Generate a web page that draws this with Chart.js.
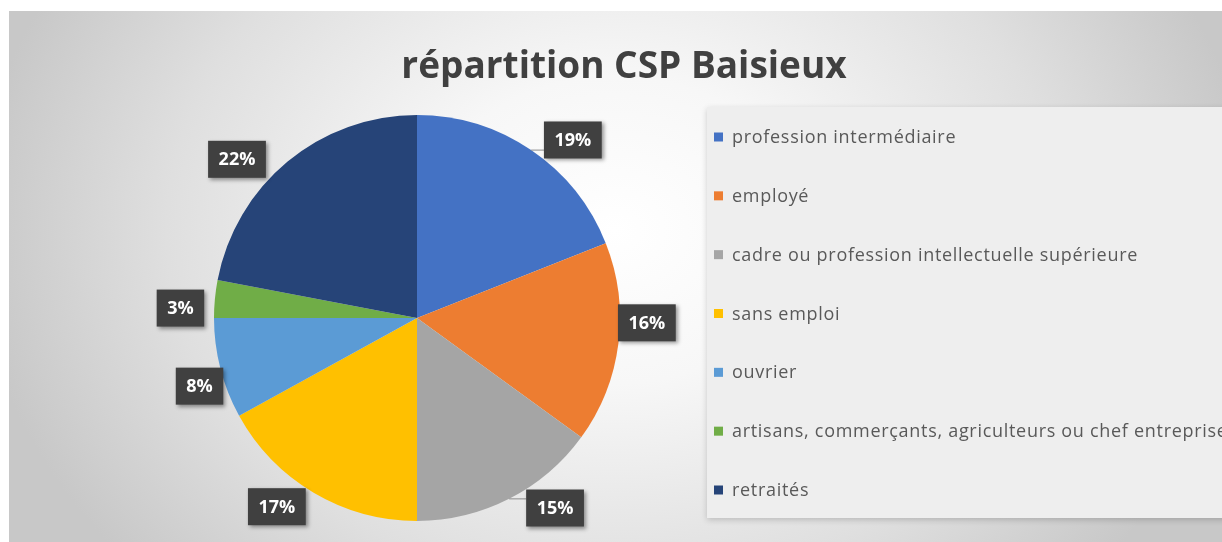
<!DOCTYPE html>
<html>
<head>
<meta charset="utf-8">
<script src="https://cdn.jsdelivr.net/npm/chart.js@4.4.1/dist/chart.umd.min.js"></script>
<style>
html,body{margin:0;padding:0;background:#fff;overflow:hidden}
canvas{display:block}
</style>
</head>
<body>
<canvas id="csp" width="1222" height="542"></canvas>
<script>
const TITLE = 'répartition CSP Baisieux';
const LABELS = ['profession intermédiaire','employé','cadre ou profession intellectuelle supérieure','sans emploi','ouvrier','artisans, commerçants, agriculteurs ou chef entreprise','retraités'];
const VALUES = [19,16,15,17,8,3,22];
const COLORS = ['#4472C4','#ED7D31','#A5A5A5','#FFC000','#5B9BD5','#70AD47','#264478'];
// excel's "best fit" moves some labels off the slice middle (degrees, px past the rim)
const LABEL_NUDGE = [7,-6,-9,6,-3,-3,-9];
const LABEL_GAP = [9,-2,9,9,0,10,9];
const LEADER = [true,false,true,false,false,false,false];

const FONT = '"Open Sans", "Liberation Sans", sans-serif';

// grey radial backdrop, white strip top/left like the screenshot crop
const backdrop = {id:'backdrop', beforeDraw(chart){
  const {ctx,width,height} = chart;
  ctx.save();
  ctx.fillStyle = '#fff'; ctx.fillRect(0,0,width,height);
  ctx.beginPath(); ctx.rect(9,11,width-9,height-11); ctx.clip();
  ctx.translate(615,230); ctx.scale(1,0.8);
  const g = ctx.createRadialGradient(0,0,0,0,0,640);
  g.addColorStop(0,'#ffffff'); g.addColorStop(0.3,'#f7f7f7'); g.addColorStop(0.7,'#dfdfdf'); g.addColorStop(1,'#c8c8c8');
  ctx.fillStyle = g; ctx.fillRect(-2000,-2000,4000,4000);
  ctx.restore();
  // title
  ctx.save();
  ctx.fillStyle = '#404040'; ctx.font = 'bold 37px '+FONT;
  ctx.textAlign = 'center'; ctx.textBaseline = 'alphabetic';
  ctx.fillText(TITLE, 624, 78);
  ctx.restore();
  // legend panel + items
  ctx.save();
  ctx.shadowColor = 'rgba(0,0,0,0.18)'; ctx.shadowBlur = 6; ctx.shadowOffsetY = 2;
  ctx.fillStyle = '#eeeeee'; ctx.fillRect(707,107,560,411);
  ctx.restore();
  ctx.save();
  ctx.font = '18px '+FONT; ctx.textBaseline = 'middle';
  ctx.letterSpacing = '0.7px';
  const step = (411-58)/(LABELS.length-1);
  LABELS.forEach((t,i)=>{
    const y = 137 + i*step;
    ctx.fillStyle = COLORS[i]; ctx.fillRect(714,y-4.5,9,9);
    ctx.fillStyle = '#595959'; ctx.fillText(t,732,y+1);
  });
  ctx.restore();
}};

// dark % boxes outside the slices
const pctLabels = {id:'pctLabels', afterDatasetsDraw(chart){
  const {ctx} = chart;
  const arcs = chart.getDatasetMeta(0).data;
  const total = VALUES.reduce((s,v)=>s+v,0);
  ctx.save();
  ctx.font = 'bold 18px '+FONT; ctx.textAlign = 'center'; ctx.textBaseline = 'middle';
  arcs.forEach((arc,i)=>{
    const {x,y,startAngle,endAngle,outerRadius} = arc.getProps(['x','y','startAngle','endAngle','outerRadius'],true);
    const mid = (startAngle+endAngle)/2;
    const th = mid + LABEL_NUDGE[i]*Math.PI/180;
    const ux = Math.cos(th), uy = Math.sin(th);
    const txt = Math.round(VALUES[i]/total*100)+'%';
    const w = ctx.measureText(txt).width + 21, h = 37;
    const t = Math.min(w/2/Math.max(Math.abs(ux),1e-6), h/2/Math.max(Math.abs(uy),1e-6));
    const R = outerRadius + LABEL_GAP[i] + t;
    const cx = x + ux*R, cy = y + uy*R;
    if (LEADER[i]) {
      const px = x + Math.cos(mid)*outerRadius, py = y + Math.sin(mid)*outerRadius;
      const bx = Math.min(Math.max(px,cx-w/2),cx+w/2), by = Math.min(Math.max(py,cy-h/2+6),cy+h/2);
      ctx.strokeStyle = '#8c8c8c'; ctx.lineWidth = 1;
      ctx.beginPath(); ctx.moveTo(px,py); ctx.lineTo(bx,by); ctx.stroke();
    }
    ctx.save();
    ctx.shadowColor = 'rgba(0,0,0,0.4)'; ctx.shadowBlur = 4; ctx.shadowOffsetX = 2; ctx.shadowOffsetY = 2;
    ctx.fillStyle = '#404040'; ctx.fillRect(cx-w/2,cy-h/2,w,h);
    ctx.restore();
    ctx.fillStyle = '#ffffff'; ctx.fillText(txt,cx,cy+1);
  });
  ctx.restore();
}};

new Chart(document.getElementById('csp'),{type:'pie',
  data:{labels:LABELS,datasets:[{data:VALUES,backgroundColor:COLORS,borderWidth:0,offset:0,hoverOffset:0}]},
  options:{responsive:false,animation:false,events:[],devicePixelRatio:1,
    layout:{padding:{top:115,bottom:21,left:14,right:402}},
    plugins:{legend:{display:false},title:{display:false},tooltip:{enabled:false}}},
  plugins:[backdrop,pctLabels]
});
</script>
</body>
</html>
